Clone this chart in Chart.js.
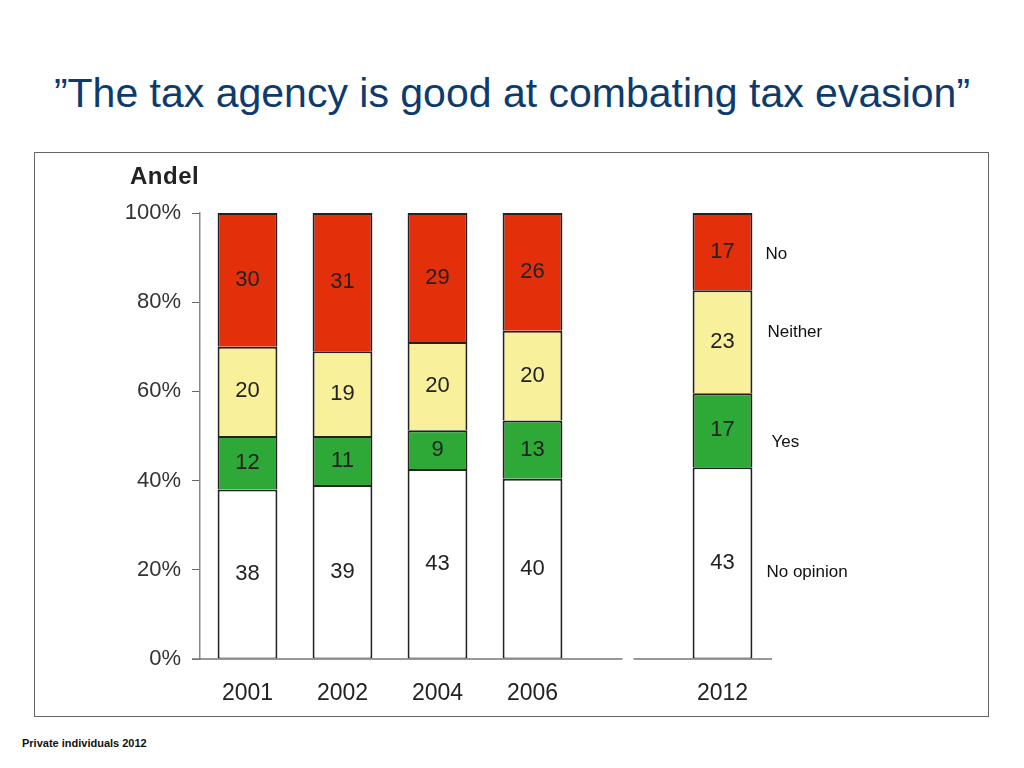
<!DOCTYPE html>
<html>
<head>
<meta charset="utf-8">
<script src="https://cdn.jsdelivr.net/npm/chart.js@4.4.0/dist/chart.umd.min.js"></script>
<style>
  body { margin: 0; width: 1024px; height: 768px; background: #fff; position: relative; overflow: hidden; font-family: "Liberation Sans", Arial, sans-serif; }
  #title { position: absolute; left: 0; top: 70px; width: 1024px; text-align: center; font-size: 41px; color: #0d3b6e; }
  #box { position: absolute; left: 34px; top: 152px; width: 953px; height: 563px; border: 1px solid #666; }
  #wrap { position: absolute; left: 0; top: 0; width: 953px; height: 563px; }
  #andel { position: absolute; left: 130px; top: 162px; font-size: 24px; letter-spacing: 0.5px; font-weight: bold; color: #222; }
  #foot { position: absolute; left: 22px; top: 737px; font-size: 11px; font-weight: bold; color: #111; }
</style>
</head>
<body>
<div id="title">”The tax agency is good at combating tax evasion”</div>
<div id="box"><div id="wrap"><canvas id="chart"></canvas></div></div>
<div id="andel">Andel</div>
<div id="foot">Private individuals 2012</div>
<script>
// survey years, blank slot makes the gap before 2012
const years = ["2001", "2002", "2004", "2006", "", "2012"];

// shares in percent, as drawn (labels are rounded)
const noOpinion = [38, 39, 42.6, 40.4, null, 43];
const yes = [12, 11, 8.7, 13.1, null, 16.6];
const neither = [20, 19, 19.8, 20.1, null, 23.1];
const no = [30, 31, 28.9, 26.4, null, 17.3];

const seriesNames = ["No opinion", "Yes", "Neither", "No"];
const seriesColors = ["#ffffff", "#2ea836", "#f8f09a", "#e4300a"];
const yTicks = [0, 20, 40, 60, 80, 100];

const FONT = "'Liberation Sans', Arial, sans-serif";

// numbers inside the bar segments
const segmentLabels = {
  id: "segmentLabels",
  afterDatasetsDraw(chart) {
    const ctx = chart.ctx;
    ctx.save();
    ctx.font = "22px " + FONT;
    ctx.fillStyle = "#222";
    ctx.textAlign = "center";
    ctx.textBaseline = "middle";
    chart.data.datasets.forEach((ds, i) => {
      chart.getDatasetMeta(i).data.forEach((el, j) => {
        const v = ds.data[j];
        if (v == null) return;
        ctx.fillText(Math.round(v), el.x, (el.y + el.base) / 2);
      });
    });
    ctx.restore();
  },
};

// series names next to the 2012 bar, plus the broken x axis line
const sideLabels = {
  id: "sideLabels",
  afterDraw(chart) {
    const ctx = chart.ctx;
    const last = years.length - 1;
    const dy = [9, 12, -9, 3];
    const dx = [14, 19, 15, 13];
    ctx.save();
    ctx.font = "17px " + FONT;
    ctx.fillStyle = "#111";
    ctx.textAlign = "left";
    ctx.textBaseline = "middle";
    chart.data.datasets.forEach((ds, i) => {
      const el = chart.getDatasetMeta(i).data[last];
      ctx.fillText(seriesNames[i], el.x + el.width / 2 + dx[i], (el.y + el.base) / 2 + dy[i]);
    });

    const area = chart.chartArea;
    const gapX = chart.scales.x.getPixelForValue(4);
    ctx.strokeStyle = "#777";
    ctx.lineWidth = 1.5;
    ctx.beginPath();
    ctx.moveTo(area.left - 8, area.bottom);
    ctx.lineTo(gapX - 5, area.bottom);
    ctx.moveTo(gapX + 6, area.bottom);
    ctx.lineTo(area.right + 2, area.bottom);
    ctx.stroke();
    ctx.restore();
  },
};

const seriesData = [noOpinion, yes, neither, no];

new Chart(document.getElementById("chart"), {
  type: "bar",
  data: {
    labels: years,
    datasets: seriesData.map((d, i) => ({
      label: seriesNames[i],
      data: d,
      backgroundColor: seriesColors[i],
      borderColor: "#222",
      borderWidth: { top: 2, left: 2, right: 2, bottom: i === 0 ? 1 : 0 },
      borderSkipped: false,
      barPercentage: 0.63,
      categoryPercentage: 1,
    })),
  },
  options: {
    responsive: true,
    maintainAspectRatio: false,
    animation: false,
    layout: { padding: { top: 60, right: 218, left: 0, bottom: 0 } },
    plugins: { legend: { display: false }, tooltip: { enabled: false } },
    scales: {
      x: {
        stacked: true,
        grid: { display: false, drawTicks: false },
        border: { display: false },
        ticks: { color: "#222", font: { size: 23, family: FONT }, padding: 21 },
        afterFit(s) { s.height = 57; },
      },
      y: {
        stacked: true,
        min: 0,
        max: 100,
        afterBuildTicks(s) { s.ticks = yTicks.map((v) => ({ value: v })); },
        grid: { drawOnChartArea: false, drawTicks: true, tickLength: 8, color: "#666" },
        border: { display: true, color: "#888", width: 1.5 },
        ticks: {
          color: "#333",
          padding: 11,
          font: { size: 22, family: FONT },
          callback: (v) => v + "%",
        },
        afterFit(s) { s.width = 165; },
      },
    },
  },
  plugins: [segmentLabels, sideLabels],
});
</script>
</body>
</html>
